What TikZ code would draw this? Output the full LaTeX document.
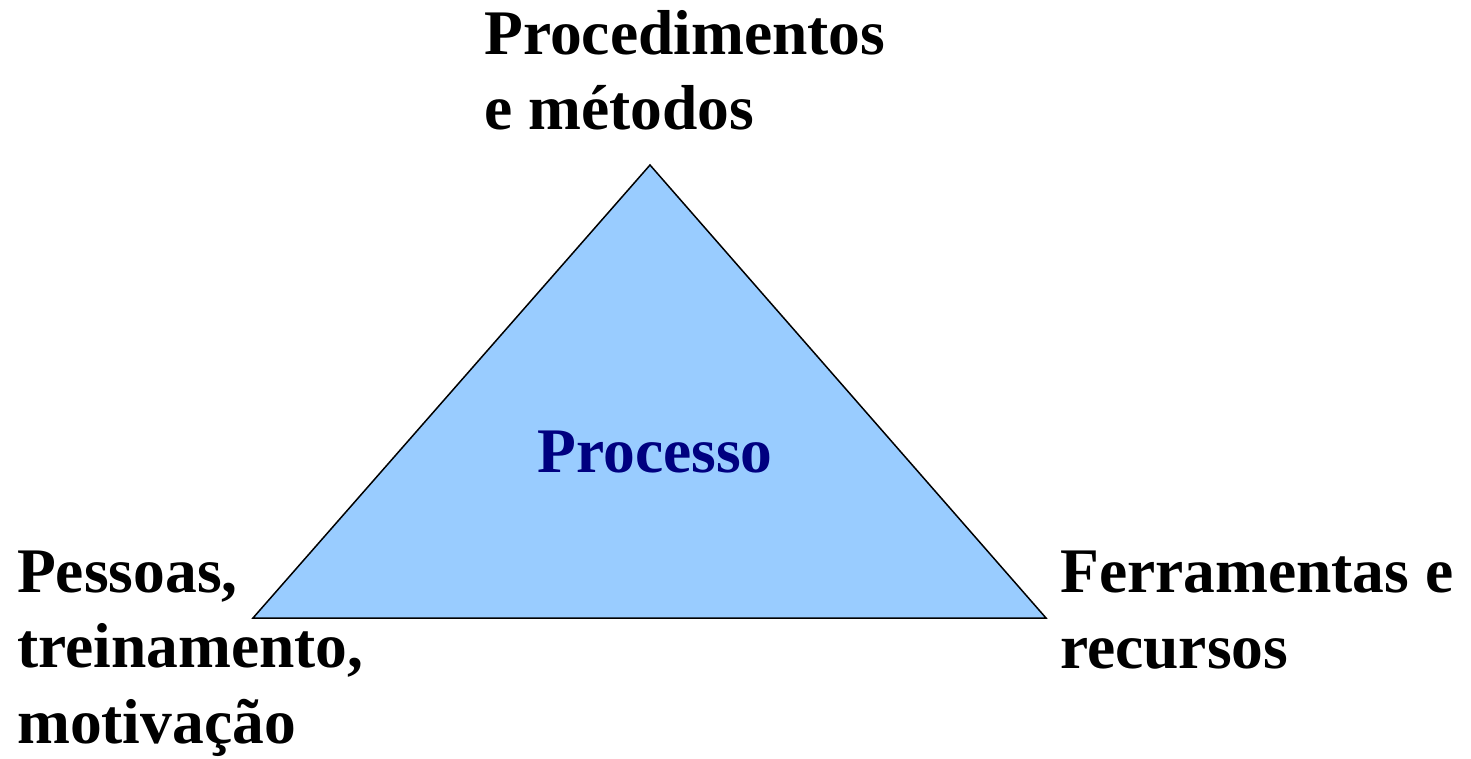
\documentclass[tikz,border=0pt]{standalone}
\usepackage{fontspec}
\setmainfont{Liberation Serif}
\definecolor{trifill}{HTML}{99CCFF}
\definecolor{navytext}{HTML}{000080}
\begin{document}
\begin{tikzpicture}[x=1pt,y=-1pt,
  lbl/.style={inner sep=0pt,anchor=base west,align=left,font=\fontsize{63.5}{75.5}\selectfont\bfseries}]
\useasboundingbox (0,0) rectangle (1471,759);
\coordinate (top) at (650,165);
\coordinate (bl) at (253,618);
\coordinate (br) at (1046,618);
\filldraw[fill=trifill,draw=black,line width=1.5pt,line join=miter] (top) -- (br) -- (bl) -- cycle;
\node[inner sep=0pt,anchor=base,text=navytext,font=\fontsize{63.5}{75.5}\selectfont\bfseries] (proc) at (655,472) {Processo};
\node[lbl] (pm) at (484,130) {Procedimentos\\e métodos};
\node[lbl] (pt) at (17,743) {Pessoas,\\treinamento,\\motivação};
\node[lbl] (fr) at (1060,668) {Ferramentas e\\recursos};
\end{tikzpicture}
\end{document}
